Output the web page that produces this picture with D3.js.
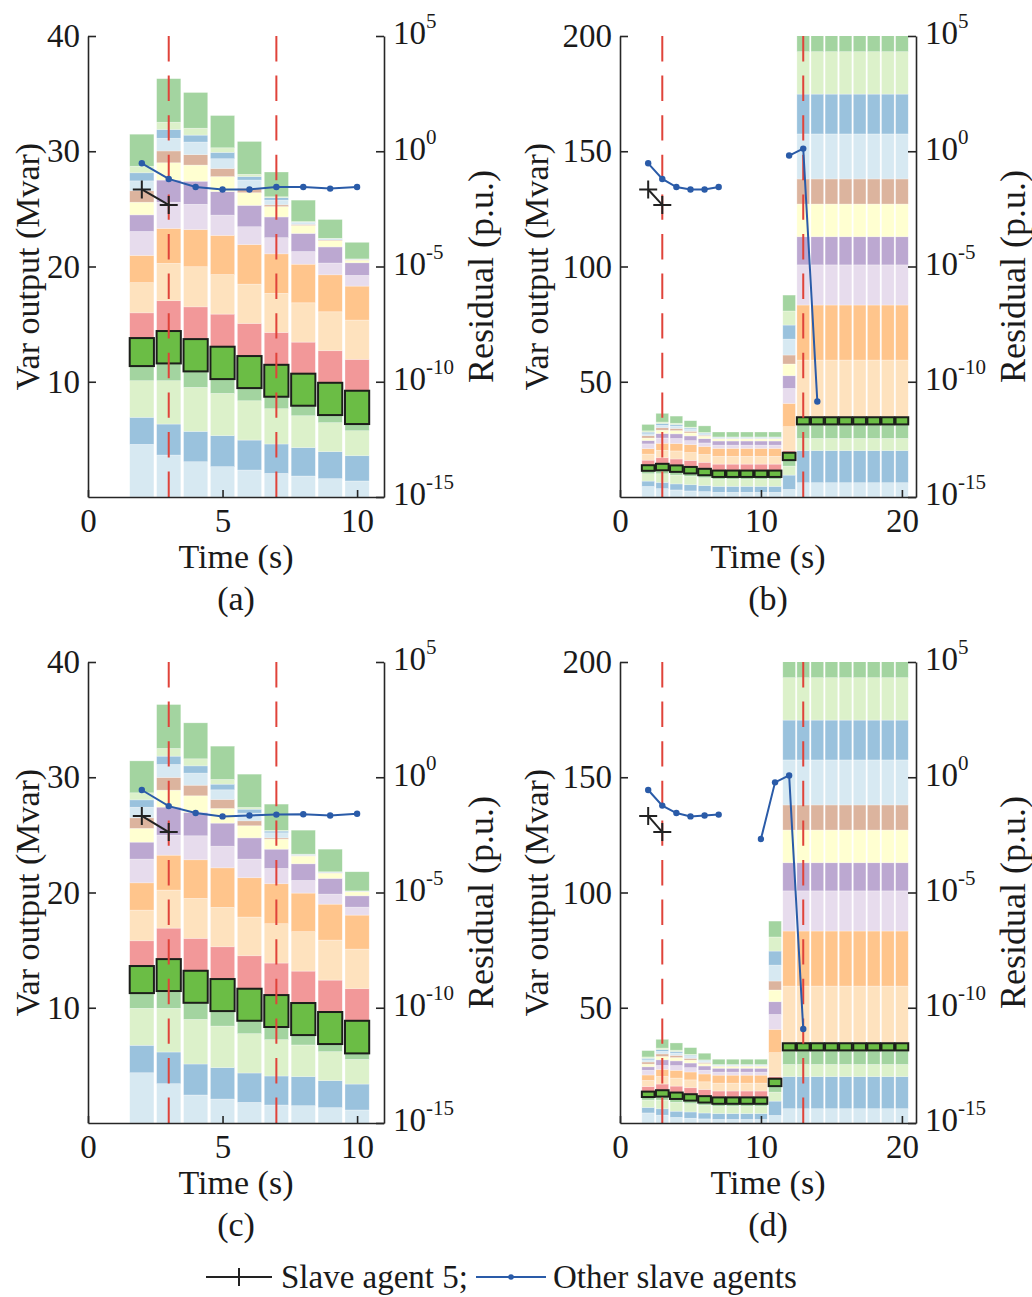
<!DOCTYPE html>
<html>
<head>
<meta charset="utf-8">
<script src="https://cdn.jsdelivr.net/npm/d3@7"></script>
<style>
  body { margin: 0; background: #fff; }
  text { font-family: "Liberation Serif", "Times New Roman", serif; fill: #1a1a1a; }
</style>
</head>
<body>
<svg id="chart" width="1032" height="1297"></svg>
<script>
// var output of the 16 slave agents (Mvar), one row per time step, agent order bottom -> top
// agent 5 is index 4 (highlighted box)
const aTimes = [2, 3, 4, 5, 6, 7, 8, 9, 10];
const aOutputs = [
  [4.57, 2.34, 3.18, 1.27, 2.43, 2.19, 2.62, 2.36, 2.08, 1.44, 1.10, 0.99, 0.86, 0.70, 0.57, 2.78],
  [3.64, 2.69, 3.76, 1.50, 2.81, 2.63, 3.24, 3.03, 2.28, 1.92, 1.50, 1.03, 1.10, 0.75, 0.64, 3.78],
  [3.06, 2.63, 3.82, 1.39, 2.80, 2.80, 3.48, 3.22, 2.20, 2.00, 1.40, 0.90, 1.10, 0.60, 0.60, 3.10],
  [2.63, 2.69, 3.67, 1.24, 2.81, 2.83, 3.43, 3.40, 1.76, 2.04, 1.30, 0.70, 0.85, 0.55, 0.40, 2.80],
  [2.34, 2.60, 3.41, 1.10, 2.78, 2.83, 3.41, 3.43, 1.55, 1.85, 1.10, 0.40, 0.70, 0.30, 0.20, 2.85],
  [2.05, 2.55, 3.06, 1.04, 2.77, 2.80, 3.40, 3.43, 1.40, 1.80, 0.90, 0.15, 0.41, 0.21, 0.08, 2.15],
  [1.82, 2.46, 2.77, 0.87, 2.78, 2.74, 3.41, 3.35, 1.10, 1.57, 0.69, 0.09, 0.15, 0.05, 0.05, 1.86],
  [1.59, 2.34, 2.52, 0.66, 2.80, 2.78, 3.38, 3.21, 1.02, 1.40, 0.54, 0.06, 0.05, 0.05, 0.05, 1.63],
  [1.39, 2.19, 2.17, 0.58, 2.89, 2.72, 3.41, 2.95, 0.93, 1.09, 0.23, 0.05, 0.02, 0.02, 0.02, 1.44]
];
const cTimes = [2, 3, 4, 5, 6, 7, 8, 9, 10];
const cOutputs = [
  [4.36, 2.38, 3.21, 1.32, 2.35, 2.19, 2.66, 2.37, 2.06, 1.47, 1.19, 0.92, 0.92, 0.64, 0.61, 2.77],
  [3.41, 2.75, 3.79, 1.50, 2.77, 2.69, 3.30, 3.03, 1.74, 2.43, 1.47, 1.10, 1.13, 0.72, 0.67, 3.81],
  [2.43, 2.69, 3.87, 1.44, 2.78, 2.81, 3.47, 3.35, 2.08, 2.03, 1.44, 0.92, 1.05, 0.63, 0.61, 3.12],
  [2.08, 2.72, 3.61, 1.30, 2.78, 2.80, 3.42, 3.43, 1.88, 2.00, 1.27, 0.78, 0.84, 0.49, 0.41, 2.89],
  [1.79, 2.55, 3.41, 1.12, 2.78, 2.86, 3.36, 3.41, 1.62, 1.84, 1.05, 0.43, 0.67, 0.34, 0.15, 2.89],
  [1.56, 2.52, 3.15, 1.10, 2.77, 2.78, 3.41, 3.47, 1.33, 1.67, 0.87, 0.11, 0.44, 0.15, 0.06, 2.28],
  [1.50, 2.52, 2.75, 0.86, 2.78, 2.77, 3.42, 3.35, 1.10, 1.44, 0.67, 0.04, 0.08, 0.03, 0.02, 2.08],
  [1.33, 2.34, 2.52, 0.66, 2.78, 2.77, 3.47, 3.12, 0.87, 1.36, 0.46, 0.04, 0.03, 0.03, 0.02, 1.96],
  [1.13, 2.25, 2.14, 0.52, 2.83, 2.78, 3.44, 2.95, 0.69, 0.98, 0.35, 0.02, 0.02, 0.02, 0.02, 1.66]
];
// after the large disturbance (panels b and d)
const midOutputs = [3.3, 6.2, 3.9, 2.6, 3.2, 0.9, 10.4, 10.1, 6.5, 5.5, 5.1, 3.9, 6.9, 6.1, 6.1, 6.9];
const tallOutputs = [6.2, 13.9, 5.3, 6.1, 3.1, 0.2, 24.6, 23.9, 17.4, 12.2, 14.2, 10.9, 19.5, 17.3, 18.4, 11.8];

const bTimes = [2, 3, 4, 5, 6, 7, 8, 9, 10, 11, 12, 13, 14, 15, 16, 17, 18, 19, 20];
// small bars hold the t=7 state until the disturbance
const bOutputs = [aOutputs[0], aOutputs[1], aOutputs[2], aOutputs[3], aOutputs[4], aOutputs[5],
  aOutputs[5], aOutputs[5], aOutputs[5], aOutputs[5], midOutputs,
  tallOutputs, tallOutputs, tallOutputs, tallOutputs, tallOutputs, tallOutputs, tallOutputs, tallOutputs];
const dTimes = [2, 3, 4, 5, 6, 7, 8, 9, 10, 11, 12, 13, 14, 15, 16, 17, 18, 19, 20];
const dOutputs = [cOutputs[0], cOutputs[1], cOutputs[2], cOutputs[3], cOutputs[4], cOutputs[5],
  cOutputs[5], cOutputs[5], cOutputs[5], midOutputs,
  tallOutputs, tallOutputs, tallOutputs, tallOutputs, tallOutputs, tallOutputs, tallOutputs, tallOutputs, tallOutputs];

// residuals (p.u.)
const aResTimes = [2, 3, 4, 5, 6, 7, 8, 9, 10];
const aResOthers = [0.30, 0.063, 0.028, 0.022, 0.022, 0.028, 0.028, 0.024, 0.028];
const bResTimes = [2, 3, 4, 5, 6, 7, 8, 9, 10, 11, 12, 13, 14];
const bResOthers = [0.30, 0.063, 0.028, 0.022, 0.022, 0.028, null, null, null, null, 0.65, 1.3, 1.4e-11];
const cResTimes = [2, 3, 4, 5, 6, 7, 8, 9, 10];
const cResOthers = [0.28, 0.056, 0.028, 0.020, 0.022, 0.024, 0.025, 0.022, 0.026];
const dResTimes = [2, 3, 4, 5, 6, 7, 8, 9, 10, 11, 12, 13];
const dResOthers = [0.28, 0.059, 0.028, 0.020, 0.022, 0.024, null, null, 0.0021, 0.60, 1.2, 1.2e-11];
const agent5ResTimes = [2, 3];
const abAgent5Res = [0.022, 0.0047];
const cdAgent5Res = [0.021, 0.0042];

const aEvents = [3, 7];
const bEvents = [3, 13];

const resTicks = [1e-15, 1e-10, 1e-5, 1e0, 1e5];
const resExp = ["-15", "-10", "-5", "0", "5"];

const svg = d3.select("#chart");
svg.append("rect").attr("width", 1032).attr("height", 1297).attr("fill", "#fff");

const barColor = d3.schemePaired;
const blue = "#2a5ba8";

const panels = [
  {id: "a", left: 88, right: 384, top: 36, bottom: 497, xMax: 11, yMax: 40, xTicks: [0, 5, 10], yTicks: [10, 20, 30, 40],
   times: aTimes, outputs: aOutputs, resTimes: aResTimes, res: aResOthers, res5: abAgent5Res, events: aEvents, yLabX: 49},
  {id: "b", left: 620, right: 916, top: 36, bottom: 497, xMax: 21, yMax: 200, xTicks: [0, 10, 20], yTicks: [50, 100, 150, 200],
   times: bTimes, outputs: bOutputs, resTimes: bResTimes, res: bResOthers, res5: abAgent5Res, events: bEvents, yLabX: 72},
  {id: "c", left: 88, right: 384, top: 662, bottom: 1123, xMax: 11, yMax: 40, xTicks: [0, 5, 10], yTicks: [10, 20, 30, 40],
   times: cTimes, outputs: cOutputs, resTimes: cResTimes, res: cResOthers, res5: cdAgent5Res, events: aEvents, yLabX: 49},
  {id: "d", left: 620, right: 916, top: 662, bottom: 1123, xMax: 21, yMax: 200, xTicks: [0, 10, 20], yTicks: [50, 100, 150, 200],
   times: dTimes, outputs: dOutputs, resTimes: dResTimes, res: dResOthers, res5: cdAgent5Res, events: bEvents, yLabX: 72}
];

function drawPanel(p) {
  const g = svg.append("g");
  const x = d3.scaleLinear().domain([0, p.xMax]).range([p.left, p.right]);
  const y = d3.scaleLinear().domain([0, p.yMax]).range([p.bottom, p.top]);
  const r = d3.scaleLog().domain([1e-15, 1e5]).range([p.bottom, p.top]);
  const bw = x(0.9) - x(0);

  svg.append("clipPath").attr("id", "clip" + p.id)
    .append("rect").attr("x", p.left).attr("y", p.top)
    .attr("width", p.right - p.left).attr("height", p.bottom - p.top);

  const series = d3.stack().keys(d3.range(16))(p.outputs);
  const bars = g.append("g").attr("clip-path", "url(#clip" + p.id + ")");

  series.forEach((s, i) => {
    if (i === 4) return;
    bars.selectAll(null).data(s).join("rect")
      .attr("x", (d, j) => x(p.times[j]) - bw / 2)
      .attr("width", bw)
      .attr("y", d => y(d[1]))
      .attr("height", d => y(d[0]) - y(d[1]))
      .attr("fill", barColor[i % 12])
      .attr("fill-opacity", 0.45)
      .attr("stroke", "#fff").attr("stroke-opacity", 0.5).attr("stroke-width", 0.6);
  });
  // agent 5 drawn on top with a black frame
  bars.selectAll(null).data(series[4]).join("rect")
    .attr("x", (d, j) => x(p.times[j]) - bw / 2)
    .attr("width", bw)
    .attr("y", d => y(d[1]))
    .attr("height", d => y(d[0]) - y(d[1]))
    .attr("fill", "#6bbd45")
    .attr("stroke", "#1c1f1a").attr("stroke-width", 2);

  // event markers
  g.selectAll(null).data(p.events).join("line")
    .attr("x1", d => x(d)).attr("x2", d => x(d))
    .attr("y1", p.top).attr("y2", p.bottom)
    .attr("stroke", "#e0433a").attr("stroke-width", 2)
    .attr("stroke-dasharray", "25.4,14.2");

  // residual of other agents
  const pts = p.resTimes.map((t, i) => ({t: t, v: p.res[i]}));
  const line = d3.line().defined(d => d.v != null).x(d => x(d.t)).y(d => r(d.v));
  g.append("path").datum(pts).attr("d", line)
    .attr("fill", "none").attr("stroke", blue).attr("stroke-width", 2);
  g.selectAll(null).data(pts.filter(d => d.v != null)).join("circle")
    .attr("cx", d => x(d.t)).attr("cy", d => r(d.v)).attr("r", 3.2).attr("fill", blue);

  // residual of agent 5
  const pts5 = agent5ResTimes.map((t, i) => ({t: t, v: p.res5[i]}));
  g.append("path").datum(pts5).attr("d", d3.line().x(d => x(d.t)).y(d => r(d.v)))
    .attr("fill", "none").attr("stroke", "#222").attr("stroke-width", 2);
  g.selectAll(null).data(pts5).join("path")
    .attr("transform", d => `translate(${x(d.t)},${r(d.v)})`)
    .attr("d", "M-9,0H9M0,-9V9").attr("stroke", "#222").attr("stroke-width", 2);

  // axes
  const styleAxis = (ax) => {
    ax.attr("color", "#262626");
    ax.selectAll(".domain, .tick line").attr("stroke-width", 1.6);
    ax.selectAll("text").attr("font-size", 33).attr("fill", "#1a1a1a")
      .attr("font-family", "Liberation Serif, Times New Roman, serif");
  };
  const yAxis = g.append("g").attr("transform", `translate(${p.left},0)`)
    .call(d3.axisLeft(y).tickValues(p.yTicks).tickSizeInner(-8).tickSizeOuter(0).tickPadding(8));
  styleAxis(yAxis);
  const xAxis = g.append("g").attr("transform", `translate(0,${p.bottom})`)
    .call(d3.axisBottom(x).tickValues(p.xTicks).tickSizeInner(-7).tickSizeOuter(0).tickPadding(12));
  styleAxis(xAxis);
  const rAxis = g.append("g").attr("transform", `translate(${p.right},0)`)
    .call(d3.axisRight(r).tickValues(resTicks).tickSizeInner(-8).tickSizeOuter(0).tickPadding(9).tickFormat(""));
  styleAxis(rAxis);
  rAxis.selectAll(".tick text").each(function(d, i) {
    const t = d3.select(this).attr("dy", "0.24em");
    t.append("tspan").text("10");
    t.append("tspan").attr("font-size", 21).attr("dy", -16).text(resExp[i]);
  });

  // labels
  const midY = (p.top + p.bottom) / 2;
  g.append("text").attr("transform", `translate(${p.left - p.yLabX},${midY}) rotate(-90)`)
    .attr("text-anchor", "middle").attr("font-size", 34).text("Var output (Mvar)");
  g.append("text").attr("transform", `translate(${p.right + 109},${midY + 10}) rotate(-90)`)
    .attr("text-anchor", "middle").attr("font-size", 36).text("Residual (p.u.)");
  const midX = (p.left + p.right) / 2;
  g.append("text").attr("x", midX).attr("y", p.bottom + 71)
    .attr("text-anchor", "middle").attr("font-size", 34).text("Time (s)");
  g.append("text").attr("x", midX).attr("y", p.bottom + 113)
    .attr("text-anchor", "middle").attr("font-size", 34).text("(" + p.id + ")");
}

panels.forEach(drawPanel);

// legend
const lg = svg.append("g");
const ly = 1277;
lg.append("line").attr("x1", 206).attr("x2", 272).attr("y1", ly).attr("y2", ly)
  .attr("stroke", "#222").attr("stroke-width", 2);
lg.append("path").attr("transform", `translate(239,${ly})`).attr("d", "M-9,0H9M0,-9V9")
  .attr("stroke", "#222").attr("stroke-width", 2);
lg.append("text").attr("x", 281).attr("y", ly + 11).attr("font-size", 33).text("Slave agent 5;");
lg.append("line").attr("x1", 476).attr("x2", 546).attr("y1", ly).attr("y2", ly)
  .attr("stroke", blue).attr("stroke-width", 2);
lg.append("circle").attr("cx", 511).attr("cy", ly).attr("r", 2.8).attr("fill", blue);
lg.append("text").attr("x", 553).attr("y", ly + 11).attr("font-size", 33).text("Other slave agents");
</script>
</body>
</html>
